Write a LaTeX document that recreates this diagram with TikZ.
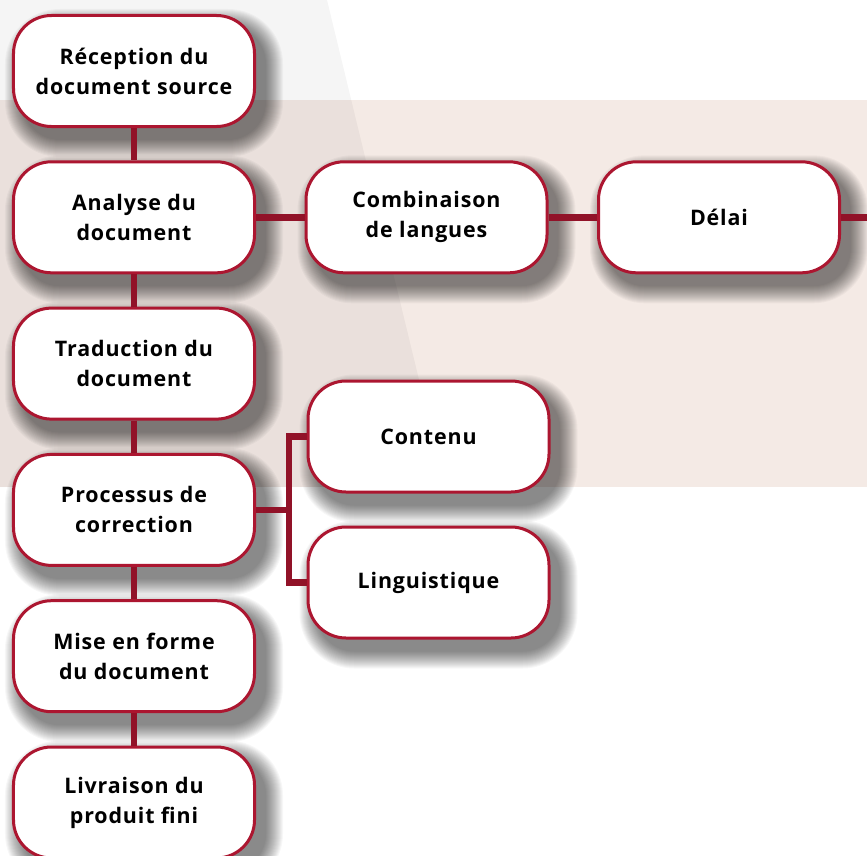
\documentclass[tikz,border=0pt]{standalone}
\usepackage{fontspec}
\setmainfont{Open Sans}[LetterSpace=4]
\usetikzlibrary{calc}
\definecolor{cadre}{RGB}{172,22,48}
\definecolor{trait}{RGB}{145,18,40}
\definecolor{beige}{RGB}{244,234,229}
\pgfdeclarelayer{fond}
\pgfdeclarelayer{ombre}
\pgfsetlayers{fond,ombre,main}
\tikzset{
  etape/.style={draw=cadre,line width=3bp,fill=white,rounded corners=38bp,
    minimum width=241bp,minimum height=111bp,align=center,
    font=\bfseries\fontsize{21.5}{30}\selectfont},
  lien/.style={draw=trait,line width=6.5bp}
}
\begin{document}
\begin{tikzpicture}[x=1bp,y=-1bp]
\pgfmathsetmacro{\kx}{134}
\pgfmathsetmacro{\ky}{71}
\pgfmathsetmacro{\kdy}{146.3}
\pgfmathsetmacro{\kdx}{292.5}
\useasboundingbox (0,0) rectangle (867,856);
\clip (0,0) rectangle (867,856);
%background
\begin{pgfonlayer}{fond}
\fill[white] (0,0) rectangle (867,856);
\fill[beige] (0,100) rectangle (867,487);
\fill[black,opacity=0.04] (0,0)--(327,0)--(445,487)--(0,487)--cycle;
\end{pgfonlayer}
%main column
\node[etape] (recep) at (\kx,\ky) {Réception du\\document source};
\node[etape] (analyse) at (\kx,\ky+\kdy) {Analyse du\\document};
\node[etape] (trad) at (\kx,\ky+2*\kdy) {Traduction du\\document};
\node[etape] (proc) at (\kx,\ky+3*\kdy) {Processus de\\correction};
\node[etape] (forme) at (\kx,\ky+4*\kdy) {Mise en forme\\du document};
\node[etape] (livr) at (\kx,\ky+5*\kdy) {Livraison du\\produit fini};
%side boxes
\node[etape] (combi) at (\kx+\kdx,\ky+\kdy) {Combinaison\\de langues};
\node[etape] (delai) at (\kx+2*\kdx,\ky+\kdy) {Délai};
\node[etape] (contenu) at (428.5,436.5) {Contenu};
\node[etape] (ling) at (428.5,582.5) {Linguistique};
\coordinate (bord) at (890,\ky+\kdy);
%shadows
\begin{pgfonlayer}{ombre}
\foreach \n in {recep,analyse,trad,proc,forme,livr,combi,delai,contenu,ling}
  \foreach \k in {0,...,17}
    \fill[black,opacity=0.03,rounded corners=38+\k]
      ($(\n.north west)+(10-\k,12-\k)$) rectangle ($(\n.south east)+(10+\k,12+\k)$);
\end{pgfonlayer}
%lines
\draw[lien] (recep.south)--(analyse.north);
\draw[lien] (analyse.south)--(trad.north);
\draw[lien] (trad.south)--(proc.north);
\draw[lien] (proc.south)--(forme.north);
\draw[lien] (forme.south)--(livr.north);
\draw[lien] (analyse.east)--(combi.west);
\draw[lien] (combi.east)--(delai.west);
\draw[lien] (delai.east)--(bord);
\draw[lien] (proc.east)--++(33,0) coordinate (fourche);
\draw[lien] (contenu.west) -| (fourche) |- (ling.west);
\end{tikzpicture}
\end{document}
